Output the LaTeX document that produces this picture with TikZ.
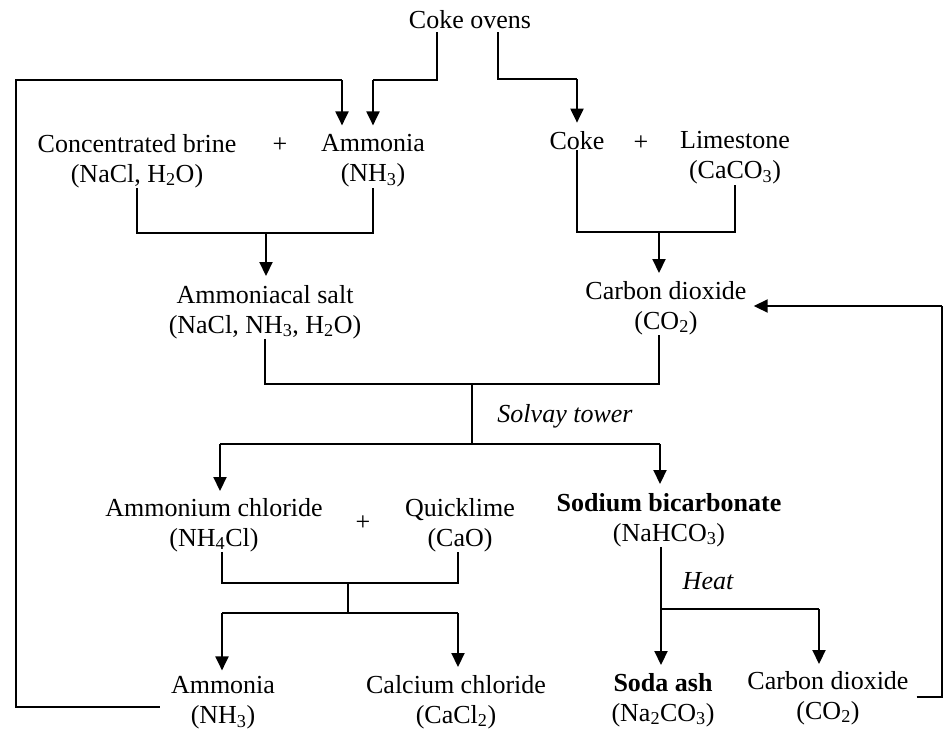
\documentclass[tikz,border=0pt]{standalone}
\usepackage{fontspec}
\setmainfont{Liberation Serif}
\usetikzlibrary{arrows.meta,calc}
\begin{document}
\begin{tikzpicture}[x=1pt,y=-1pt,
  lbl/.style={font=\fontsize{26}{30}\selectfont, align=center, inner sep=0pt},
  note/.style={lbl, font=\fontsize{26}{30}\selectfont\itshape},
  wire/.style={line width=1.4pt},
  feed/.style={line width=2pt, -{Triangle[width=13pt,length=14pt]}},
]
\useasboundingbox (0,0) rectangle (945,731);

% substances
\node[lbl] (ovens)  at (470,20)  {Coke ovens};
\node[lbl] (brine)  at (137,161) {Concentrated brine\\(NaCl, H\textsubscript{2}O)};
\node[lbl] (plusA)  at (280,145) {+};
\node[lbl] (nh3top) at (373,161) {Ammonia\\(NH\textsubscript{3})};
\node[lbl] (coke)   at (577,141) {Coke};
\node[lbl] (plusB)  at (641,143) {+};
\node[lbl] (lime)   at (735,158) {Limestone\\(CaCO\textsubscript{3})};
\node[lbl] (salt)   at (265,312) {Ammoniacal salt\\(NaCl, NH\textsubscript{3}, H\textsubscript{2}O)};
\node[lbl] (co2top) at (666,308) {Carbon dioxide\\(CO\textsubscript{2})};
\node[note] (solvay) at (565,416) {Solvay tower};
\node[lbl] (nh4cl)  at (214,525) {Ammonium chloride\\(NH\textsubscript{4}Cl)};
\node[lbl] (plusC)  at (363,523) {+};
\node[lbl] (cao)    at (460,525) {Quicklime\\(CaO)};
\node[lbl] (nahco3) at (669,520) {\textbf{Sodium bicarbonate}\\(NaHCO\textsubscript{3})};
\node[note] (heat)  at (708,581) {Heat};
\node[lbl] (nh3bot) at (223,703) {Ammonia\\(NH\textsubscript{3})};
\node[lbl] (cacl2)  at (456,702) {Calcium chloride\\(CaCl\textsubscript{2})};
\node[lbl] (soda)   at (663,700) {\textbf{Soda ash}\\(Na\textsubscript{2}CO\textsubscript{3})};
\node[lbl] (co2bot) at (828,698) {Carbon dioxide\\(CO\textsubscript{2})};

% junction and bend points
\coordinate (ovL) at (437,80);
\coordinate (ovR) at (498,79);
\coordinate (loopB) at (16,707);
\coordinate (loopT) at (16,80);
\coordinate (loopA) at (342,80);
\coordinate (r0) at ([xshift=-11pt]nh3bot.west);
\coordinate (jA) at (266,233);
\coordinate (jB) at (659,232);
\coordinate (jC) at (472,384);
\coordinate (sL) at (220,444);
\coordinate (sR) at (660,444);
\coordinate (qL) at (222,583);
\coordinate (qR) at (458,583);
\coordinate (jE) at (348,583);
\coordinate (pL) at (222,613);
\coordinate (pR) at (458,613);
\coordinate (jF) at (348,613);
\coordinate (hJ) at (661,609);
\coordinate (hR) at (819,609);
\coordinate (rB) at (942,697);
\coordinate (rT) at (942,306);
\coordinate (r1) at ([xshift=8pt]co2bot.east);

% coke ovens supply ammonia and coke
\draw[wire, shorten <=3pt] (ovens.south -| ovL) -- (ovL) -- (ovL -| nh3top);
\draw[feed, shorten >=9pt] (ovL -| nh3top) -- (nh3top.north);
\draw[wire, shorten <=3pt] (ovens.south -| ovR) -- (ovR) -- (ovR -| coke);
\draw[feed, shorten >=9pt] (ovR -| coke) -- (coke.north);

% ammonia recycled from the bottom
\draw[wire] (r0 |- loopB) -- (loopB) -- (loopT) -- (loopA);
\draw[feed, shorten >=9pt] (loopA) -- (loopA |- nh3top.north);

% brine + ammonia -> ammoniacal salt
\draw[wire] (brine.south) |- (jA) -| (nh3top.south);
\draw[feed, shorten >=9pt] (jA) -- (jA |- salt.north);

% coke + limestone -> carbon dioxide
\draw[wire] (coke.south) |- (jB) -| (lime.south);
\draw[feed, shorten >=8pt] (jB) -- (jB |- co2top.north);

% Solvay tower
\draw[wire] (salt.south) |- (jC) -- (jC -| jB) -- (jB |- co2top.south);
\draw[wire] (jC) -- (jC |- sL);
\draw[wire] (sL) -- (sR);
\draw[feed, shorten >=7pt] (sL) -- (sL |- nh4cl.north);
\draw[feed, shorten >=9pt] (sR) -- (sR |- nahco3.north);

% ammonium chloride + quicklime
\draw[wire] (qL |- nh4cl.south) -- (qL) -- (qR) -- (qR |- cao.south);
\draw[wire] (jE) -- (jF);
\draw[wire] (pL) -- (pR);
\draw[feed, shorten >=6pt] (pL) -- (pL |- nh3bot.north);
\draw[feed, shorten >=8pt] (pR) -- (pR |- cacl2.north);

% heating sodium bicarbonate
\draw[feed, shorten >=8pt] (hJ |- nahco3.south) -- (hJ |- soda.north);
\draw[wire] (hJ) -- (hR);
\draw[feed, shorten >=7pt] (hR) -- (hR |- co2bot.north);

% carbon dioxide recycled
\draw[wire] (r1 |- rB) -- (rB) -- (rT);
\draw[feed, shorten >=7pt] (rT) -- (rT -| co2top.east);
\end{tikzpicture}
\end{document}
